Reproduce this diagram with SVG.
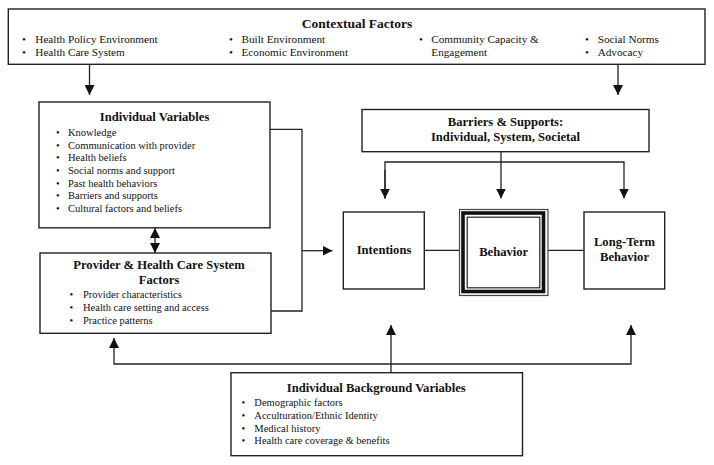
<svg xmlns="http://www.w3.org/2000/svg" width="714" height="465" viewBox="0 0 714 465">
<style>
.box{fill:#fff;stroke:#222;stroke-width:1.4}
.ln{fill:none;stroke:#222;stroke-width:1.3}
.t{font-family:"Liberation Serif","Times New Roman",serif;fill:#111}
.s{font-size:10.5px}
.m{font-size:11.2px}
.b{font-size:12.6px;font-weight:bold;text-anchor:middle}
</style>
<defs>
<marker id="ah" viewBox="0 0 10 10" markerUnits="userSpaceOnUse" markerWidth="10" markerHeight="10" refX="10" refY="5" orient="auto-start-reverse">
<path d="M0,0 L10,5 L0,10 z" fill="#111"/>
</marker>
</defs>
<rect width="714" height="465" fill="#fff"/>

<g id="connectors">
<path class="ln" d="M89.5,64.5 V95" marker-end="url(#ah)"/>
<path class="ln" d="M618,64.5 V95" marker-end="url(#ah)"/>
<path class="ln" d="M155,228 V253" marker-start="url(#ah)" marker-end="url(#ah)"/>
<path class="ln" d="M270,129.3 H302 V311 H271"/>
<path class="ln" d="M302,250.7 H332.5" marker-end="url(#ah)"/>
<path class="ln" d="M501,151.7 V198.5" marker-end="url(#ah)"/>
<path class="ln" d="M385,198.5 V162 H624 V198.5" marker-end="url(#ah)"/>
<path class="ln" d="M385,170 V198.5" marker-end="url(#ah)"/>
<path class="ln" d="M424.3,250.3 H459.5"/>
<path class="ln" d="M548,250.3 H584"/>
<path class="ln" d="M391,372.7 V325" marker-end="url(#ah)"/>
<path class="ln" d="M114,338 V364 H631 V325" marker-start="url(#ah)" marker-end="url(#ah)"/>
</g>

<g id="contextual">
<rect class="box" x="8.3" y="9" width="696.7" height="55.3"/>
<text class="t" x="357" y="27.5" style="font-size:13.5px;font-weight:bold;text-anchor:middle">Contextual Factors</text>
<g class="t m">
<text x="22" y="43.2">•</text><text x="35.3" y="43.2">Health Policy Environment</text>
<text x="22" y="56.2">•</text><text x="35.3" y="56.2">Health Care System</text>
<text x="229" y="43.2">•</text><text x="241.5" y="43.2">Built Environment</text>
<text x="229" y="56.2">•</text><text x="241.5" y="56.2">Economic Environment</text>
<text x="419" y="43.2">•</text><text x="431.3" y="43.2">Community Capacity &amp;</text>
<text x="431.3" y="56.2">Engagement</text>
<text x="585" y="43.2">•</text><text x="597.7" y="43.2">Social Norms</text>
<text x="585" y="56.2">•</text><text x="597.7" y="56.2">Advocacy</text>
</g>
</g>

<g id="individual">
<rect class="box" x="39" y="102" width="231" height="125.8"/>
<text class="t b" x="154.6" y="121.4">Individual Variables</text>
<g class="t s">
<text x="56" y="136">•</text><text x="68" y="136">Knowledge</text>
<text x="56" y="148.7">•</text><text x="68" y="148.7">Communication with provider</text>
<text x="56" y="161.3">•</text><text x="68" y="161.3">Health beliefs</text>
<text x="56" y="174">•</text><text x="68" y="174">Social norms and support</text>
<text x="56" y="186.7">•</text><text x="68" y="186.7">Past health behaviors</text>
<text x="56" y="199.3">•</text><text x="68" y="199.3">Barriers and supports</text>
<text x="56" y="212">•</text><text x="68" y="212">Cultural factors and beliefs</text>
</g>
</g>

<g id="provider">
<rect class="box" x="40" y="253" width="231" height="80.3"/>
<text class="t b" x="159" y="268.7">Provider &amp; Health Care System</text>
<text class="t b" x="159" y="284.4">Factors</text>
<g class="t s">
<text x="69.5" y="297.7">•</text><text x="83" y="297.7">Provider characteristics</text>
<text x="69.5" y="311">•</text><text x="83" y="311">Health care setting and access</text>
<text x="69.5" y="323.7">•</text><text x="83" y="323.7">Practice patterns</text>
</g>
</g>

<g id="barriers">
<rect class="box" x="362" y="109.5" width="287" height="42.2"/>
<text class="t b" x="505.5" y="126.1">Barriers &amp; Supports:</text>
<text class="t b" x="505.5" y="140.7">Individual, System, Societal</text>
</g>

<g id="intentions">
<rect class="box" x="343.3" y="212" width="81" height="77"/>
<text class="t b" x="384" y="253.7">Intentions</text>
</g>

<g id="behavior">
<rect x="459.5" y="209.5" width="88.5" height="86" fill="#fff" stroke="#444" stroke-width="1.2"/>
<rect x="463" y="213" width="80.5" height="78.5" fill="none" stroke="#111" stroke-width="3.6"/>
<rect x="467.2" y="217.2" width="72.6" height="70.6" fill="#fff" stroke="#222" stroke-width="1.2"/>
<text class="t b" x="503.7" y="255.7">Behavior</text>
</g>

<g id="longterm">
<rect class="box" x="584" y="212" width="80.7" height="77"/>
<text class="t b" x="624.5" y="246.4">Long-Term</text>
<text class="t b" x="624.5" y="261.1">Behavior</text>
</g>

<g id="background">
<rect class="box" x="231" y="372.7" width="291.5" height="83"/>
<text class="t b" x="376.3" y="391.7">Individual Background Variables</text>
<g class="t s">
<text x="241.5" y="406">•</text><text x="254.3" y="406">Demographic factors</text>
<text x="241.5" y="419">•</text><text x="254.3" y="419">Acculturation/Ethnic Identity</text>
<text x="241.5" y="431.7">•</text><text x="254.3" y="431.7">Medical history</text>
<text x="241.5" y="444.4">•</text><text x="254.3" y="444.4">Health care coverage &amp; benefits</text>
</g>
</g>
</svg>
